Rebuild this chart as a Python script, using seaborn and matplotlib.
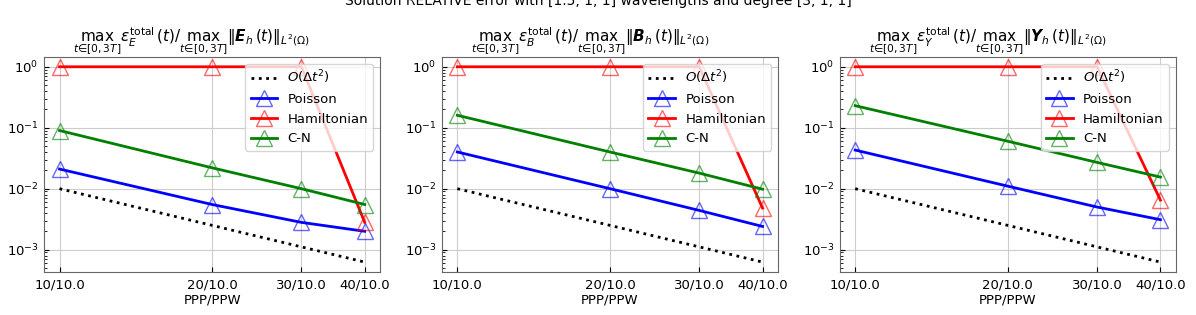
import numpy as np
import pandas as pd
import seaborn as sns
import matplotlib
matplotlib.use("Agg")
import matplotlib.pyplot as plt
from matplotlib.ticker import NullLocator

#Data
ppp = [10, 20, 30, 40]
ppw = 10.0
tick_labels = ["10/10.0", "20/10.0", "30/10.0", "40/10.0"]

ref_order2 = [1.0e-2, 2.5e-3, 1.11e-3, 6.25e-4]

poisson_E = [2.1e-2, 5.5e-3, 2.8e-3, 2.0e-3]
hamilton_E = [1.0, 1.0, 1.0, 2.8e-3]
cn_E = [9.0e-2, 2.2e-2, 1.0e-2, 5.5e-3]

poisson_B = [4.0e-2, 1.0e-2, 4.4e-3, 2.4e-3]
hamilton_B = [1.0, 1.0, 1.0, 4.8e-3]
cn_B = [1.6e-1, 4.0e-2, 1.8e-2, 9.8e-3]

poisson_Y = [4.3e-2, 1.1e-2, 5.0e-3, 3.1e-3]
hamilton_Y = [1.0, 1.0, 1.0, 6.5e-3]
cn_Y = [2.3e-1, 6.0e-2, 2.7e-2, 1.55e-2]

fields = ["E", "B", "Y"]
titles = [
    r"$\max_{t\in[0,3T]}\varepsilon_{%s}^{\mathrm{total}}(t)/\max_{t\in[0,3T]}\Vert\mathbfit{%s}_h(t)\Vert_{L^2(\Omega)}$" % (f, f)
    for f in fields
]
series = {
    "E": (poisson_E, hamilton_E, cn_E),
    "B": (poisson_B, hamilton_B, cn_B),
    "Y": (poisson_Y, hamilton_Y, cn_Y),
}

fs = 9.5
fig, axs = plt.subplots(1, 3, figsize=(11.96, 3.15), dpi=100)
fig.subplots_adjust(left=0.037, right=0.983, top=0.819, bottom=0.137, wspace=0.185)

for ax, f, title in zip(axs, fields, titles):
    poisson, hamilton, cn = series[f]
    sns.lineplot(x=ppp, y=ref_order2, ax=ax, color="k", linestyle=":", linewidth=2,
                 label=r"$O(\Delta t^2)$")
    for vals, col, name in [(poisson, "blue", "Poisson"),
                            (hamilton, "red", "Hamiltonian"),
                            (cn, "green", "C-N")]:
        sns.lineplot(x=ppp, y=vals, ax=ax, color=col, linewidth=2, marker="^",
                     markersize=11, mfc="none", mec=matplotlib.colors.to_rgba(col, 0.6),
                     mew=1.0, label=name)
    ax.set_xscale("log")
    ax.set_yscale("log")
    ax.set_xticks(ppp)
    ax.set_xticklabels(tick_labels)
    ax.xaxis.set_minor_locator(NullLocator())
    ax.tick_params(which="both", direction="in", labelsize=fs, pad=4)
    ax.tick_params(axis="x", pad=5)
    ax.grid(True, which="major", color="#cccccc", linewidth=0.8)
    ax.set_axisbelow(True)
    ax.set_xlabel("PPP/PPW", fontsize=fs, labelpad=1)
    ax.set_ylabel("")
    ax.set_title(title, fontsize=11, x=0.44, pad=2)
    ax.legend(loc="upper right", fontsize=fs)
    for sp in ax.spines.values():
        sp.set_color("#666666")

fig.suptitle("Solution RELATIVE error with [1.5, 1, 1] wavelengths and degree [3, 1, 1]",
             fontsize=fs + 0.5, y=0.984, va="baseline")
fig.savefig("out.png", dpi=100)
